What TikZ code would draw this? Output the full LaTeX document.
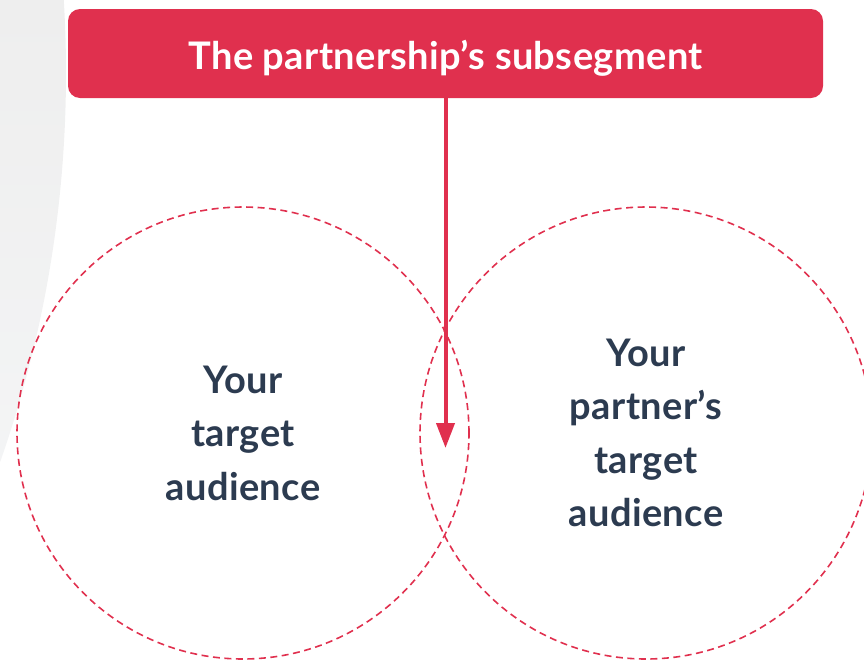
\documentclass[tikz,border=0pt]{standalone}
\usepackage{fontspec}
\setmainfont{Lato}[LetterSpace=1.0]
\usepackage{tikz}
\usetikzlibrary{arrows.meta}
\definecolor{brand}{RGB}{224, 48, 78}
\definecolor{ink}{RGB}{44, 59, 80}
\definecolor{hazetop}{RGB}{238, 238, 238}
\definecolor{hazebot}{RGB}{246, 247, 248}

\begin{document}
\begin{tikzpicture}[x=1pt, y=-1pt, >=Stealth,
    banner/.style={fill=brand, rounded corners=12pt, minimum width=755pt, minimum height=89pt,
      inner sep=0pt, text height=32pt, text depth=0pt, text=white,
      font=\fontsize{38}{44}\selectfont\bfseries},
    venn/.style={circle, draw=brand, dash pattern=on 7pt off 4.5pt, line width=1.6pt,
      minimum size=452pt, inner sep=0pt, align=center, text=ink,
      font=\fontsize{38}{53.5}\selectfont\bfseries}]
  \useasboundingbox (0,0) rectangle (864,662);

  % Soft backdrop on the left
  \begin{scope}
    \clip (0,0) rectangle (864,662);
    \clip (-1110,73) circle (1176pt);
    \shade[top color=hazetop, bottom color=hazebot] (0,0) rectangle (120,662);
  \end{scope}

  % Audiences
  \node[venn] (yours) at (243,433) {Your\\target\\audience};
  \node[venn] (theirs) at (646,433) {Your\\partner’s\\target\\audience};

  % Shared subsegment
  \node[banner] (segment) at (445.5,53.5) {The partnership’s subsegment};
  \coordinate (overlap) at (445.5,448);
  \draw[->, brand, line width=4pt, -{Triangle[length=25pt, width=18pt]}] (segment.south) -- (overlap);
\end{tikzpicture}
\end{document}
